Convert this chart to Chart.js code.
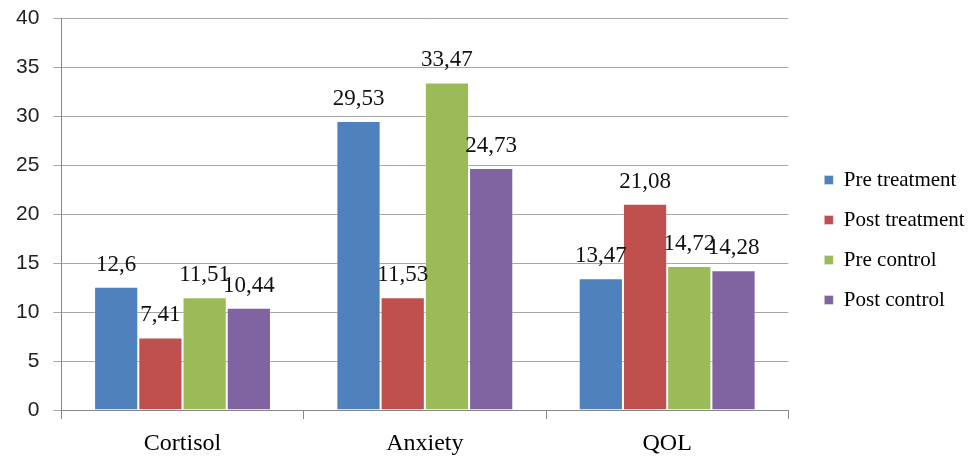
<!doctype html>
<html lang="en">
<head>
<meta charset="utf-8">
<title>Cortisol, Anxiety, QOL</title>
<script src="https://cdn.jsdelivr.net/npm/chart.js"></script>
<style>
  html, body { margin: 0; padding: 0; background: #fff; }
  #wrap { width: 979px; height: 460px; }
</style>
</head>
<body>
<div id="wrap"><canvas id="barChart" width="979" height="460"></canvas></div>
<script>
// chart data
const categories = ['Cortisol', 'Anxiety', 'QOL'];
const preTreatment = [12.6, 29.53, 13.47];
const postTreatment = [7.41, 11.53, 21.08];
const preControl = [11.51, 33.47, 14.72];
const postControl = [10.44, 24.73, 14.28];
const yTicks = [0, 5, 10, 15, 20, 25, 30, 35, 40];

const serif = '"Liberation Serif", "Times New Roman", serif';
const sans = '"Liberation Sans", Arial, sans-serif';

// draws the value above each bar, with a comma as decimal mark
const valueLabels = {
  id: 'valueLabels',
  afterDatasetsDraw(chart) {
    const ctx = chart.ctx;
    ctx.save();
    ctx.font = '23px ' + serif;
    ctx.fillStyle = '#111';
    ctx.textAlign = 'center';
    ctx.textBaseline = 'alphabetic';
    chart.data.datasets.forEach((ds, i) => {
      chart.getDatasetMeta(i).data.forEach((bar, j) => {
        const txt = String(ds.data[j]).replace('.', ',');
        ctx.fillText(txt, bar.x, bar.y - 16);
      });
    });
    ctx.restore();
  }
};

function makeSet(label, data, color) {
  return {
    label: label,
    data: data,
    backgroundColor: color,
    borderColor: 'rgba(255,255,255,0.35)',
    borderWidth: 1,
    barPercentage: 1.0,
    categoryPercentage: 0.73
  };
}

const ctx = document.getElementById('barChart').getContext('2d');
const chart = new Chart(ctx, {
  type: 'bar',
  data: {
    labels: categories,
    datasets: [
      makeSet('Pre treatment', preTreatment, '#4f81bd'),
      makeSet('Post treatment', postTreatment, '#c0504d'),
      makeSet('Pre control', preControl, '#9bbb59'),
      makeSet('Post control', postControl, '#8064a2')
    ]
  },
  options: {
    responsive: false,
    animation: false,
    layout: { padding: { left: 2, top: 0, right: 13, bottom: 0 } },
    plugins: {
      tooltip: { enabled: false },
      legend: {
        position: 'right',
        // blank title only pushes the items down a bit
        title: { display: true, text: ' ', padding: 5, font: { size: 10, lineHeight: 1 } },
        labels: {
          boxWidth: 9,
          boxHeight: 9,
          padding: 19,
          color: '#000',
          font: { family: serif, size: 21 }
        }
      }
    },
    scales: {
      x: {
        grid: {
          offset: true,
          drawOnChartArea: false,
          tickLength: 9,
          color: '#888'
        },
        border: { color: '#888' },
        ticks: {
          padding: 13,
          color: '#000',
          font: { family: serif, size: 24, lineHeight: 1 }
        },
        afterFit: (axis) => { axis.height = 50; }
      },
      y: {
        min: 0,
        max: 40,
        afterBuildTicks: (axis) => { axis.ticks = yTicks.map(v => ({ value: v })); },
        grid: { color: '#a6a6a6', tickLength: 8 },
        border: { color: '#888' },
        ticks: {
          padding: 14,
          color: '#222',
          font: { family: sans, size: 21 }
        },
        afterFit: (axis) => { axis.paddingTop = 18.5; axis.paddingBottom = 0; }
      },
      // empty axis, only keeps a gap between the plot and the legend
      gap: {
        type: 'linear',
        position: 'right',
        grid: { display: false },
        border: { display: false },
        ticks: { display: false },
        afterFit: (axis) => { axis.width = 17; }
      }
    }
  },
  plugins: [valueLabels]
});
</script>
</body>
</html>
